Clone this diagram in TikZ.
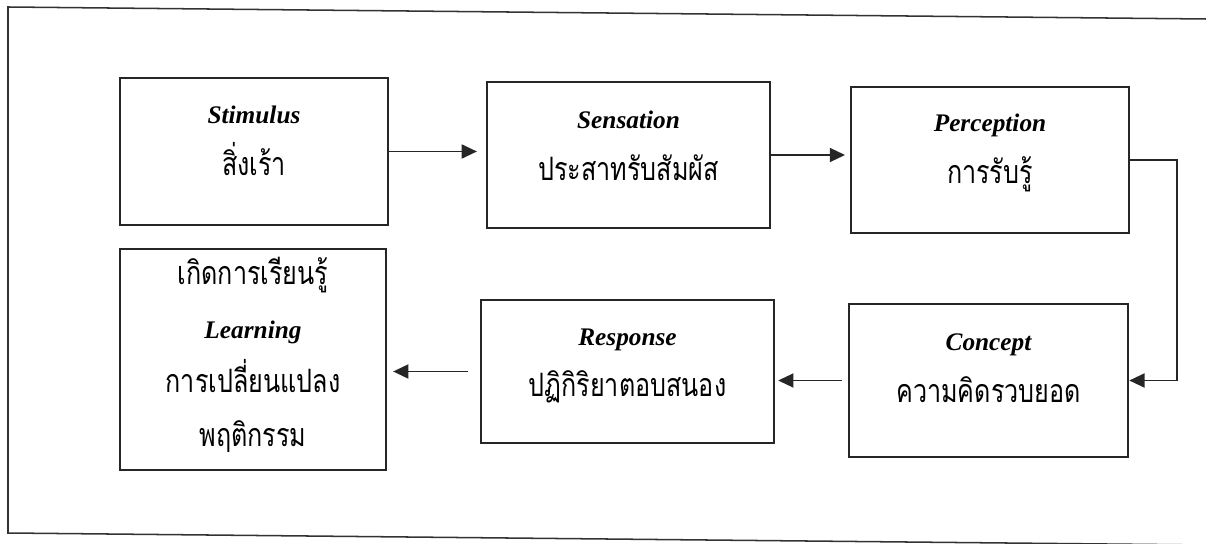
\documentclass[tikz,border=0pt]{standalone}
\usepackage{fontspec}
\setmainfont{Liberation Serif}
\newfontfamily\thaifont[Script=Thai,FakeStretch=0.78]{Loma}
\usetikzlibrary{arrows.meta}

\newcommand{\engtxt}[1]{{\bfseries\itshape #1}}
\newcommand{\thaitxt}[1]{{\thaifont\fontsize{27.5}{44}\selectfont #1}}

\begin{document}
\begin{tikzpicture}[x=0.03cm,y=-0.03cm,
    box/.style={draw=black!85,line width=2.2pt,inner sep=0pt},
    txt/.style={align=center,inner sep=0pt,font=\fontsize{21.6}{44}\selectfont},
    arr/.style={draw=black!85,line width=1.4pt,-{Triangle[length=13pt,width=12pt]}},
    frame/.style={draw=black!80,line width=1.3pt}]
  \useasboundingbox (0,0) rectangle (1206,544);
  % outer frame (open on the right, as in the scan)
  \draw[frame] (1206,19) -- (8,7) -- (8,533) -- (1206,545);

  % boxes
  \node[box,minimum width=8.04cm,minimum height=4.41cm](stimulus) at (254,151.5){};
  \node[box,minimum width=8.49cm,minimum height=4.38cm](sensation) at (628.5,155){};
  \node[box,minimum width=8.34cm,minimum height=4.38cm](perception) at (990,160){};
  \node[box,minimum width=7.98cm,minimum height=6.63cm](learning) at (253,359.5){};
  \node[box,minimum width=8.79cm,minimum height=4.29cm](response) at (627.5,371.5){};
  \node[box,minimum width=8.37cm,minimum height=4.59cm](concept) at (988.5,380.5){};

  % texts
  \node[txt](stimulus-text) at (254,141){\engtxt{Stimulus}\\\thaitxt{สิ่งเร้า}};
  \node[txt](sensation-text) at (628.5,146){\engtxt{Sensation}\\\thaitxt{ประสาทรับสัมผัส}};
  \node[txt](perception-text) at (990,153){\engtxt{Perception}\\\thaitxt{การรับรู้}};
  \node[txt,font=\fontsize{21.6}{46}\selectfont](learning-text) at (253,355){\thaitxt{เกิดการเรียนรู้}\\\engtxt{Learning}\\\thaitxt{การเปลี่ยนแปลง}\\\thaitxt{พฤติกรรม}};
  \node[txt](response-text) at (627.5,366){\engtxt{Response}\\\thaitxt{ปฏิกิริยาตอบสนอง}};
  \node[txt](concept-text) at (988.5,368){\engtxt{Concept}\\\thaitxt{ความคิดรวบยอด}};

  % arrows
  \draw[arr,shorten >=7.5pt] (stimulus.east) -- (stimulus.east -| sensation.west);
  \draw[arr,shorten >=4pt] (sensation.east) -- (sensation.east -| perception.west);
  \draw[arr] (perception.east) -- ++(47,0) |- (concept.east);
  \draw[arr,shorten <=5pt,shorten >=2.5pt] (concept.west) -- (concept.west -| response.east);
  \draw[arr,shorten <=10pt,shorten >=5pt] (response.west) -- (response.west -| learning.east);
\end{tikzpicture}
\end{document}
